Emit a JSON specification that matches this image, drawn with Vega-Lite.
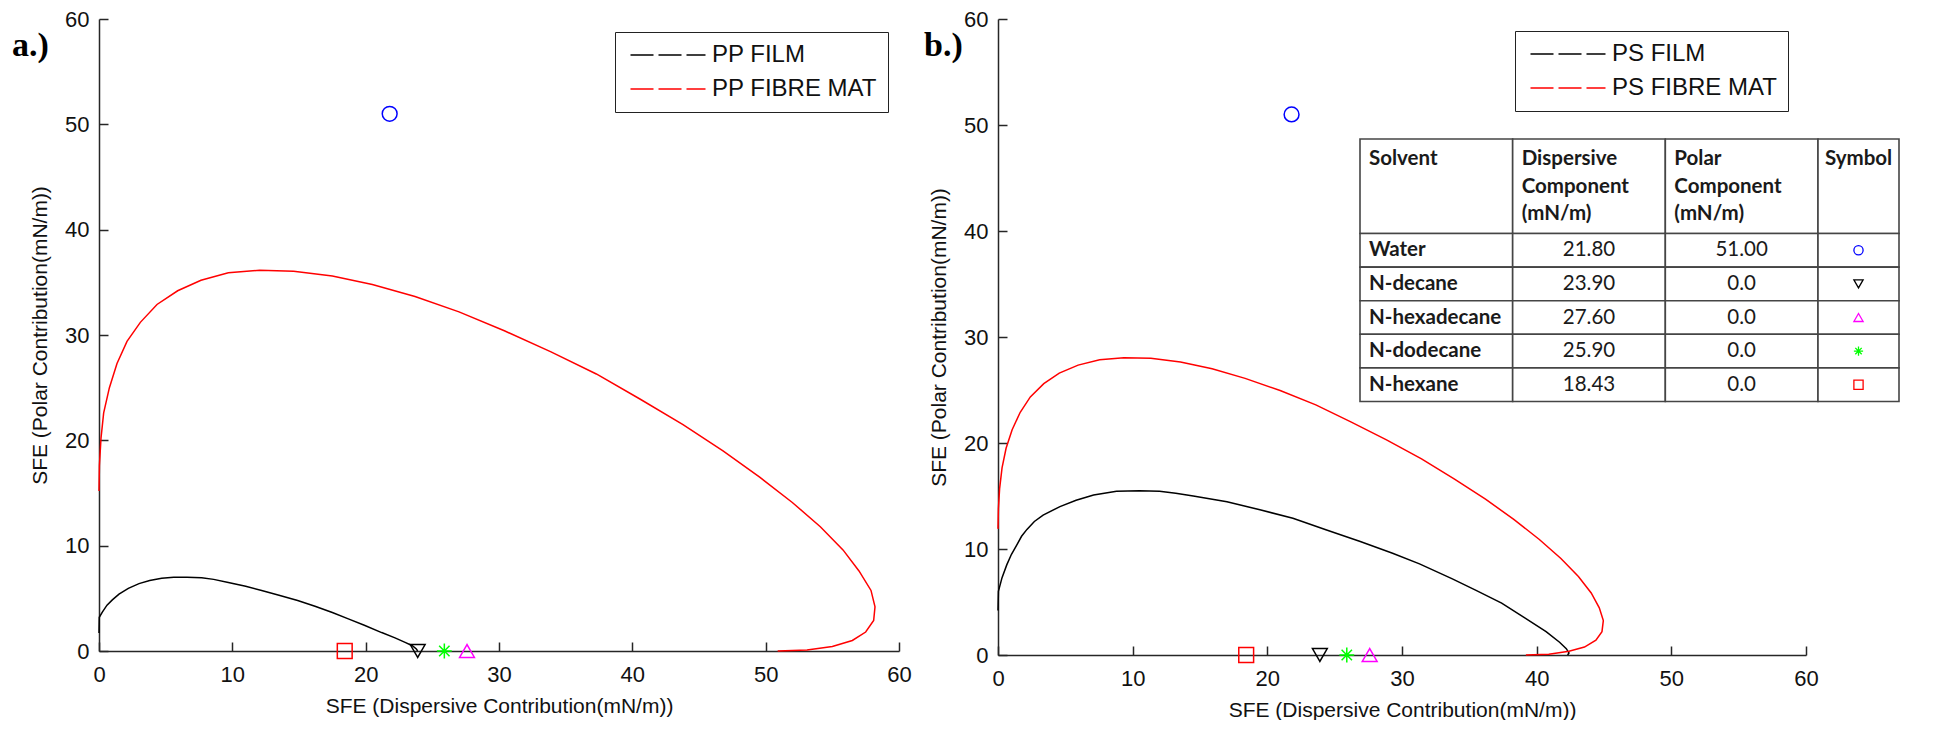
{
  "$schema": "https://vega.github.io/schema/vega-lite/v6.json",
  "background": "white",
  "padding": {"left": 12, "top": 8, "right": 0, "bottom": 0},
  "spacing": 12,
  "config": {
    "view": {"stroke": null},
    "font": "Liberation Sans",
    "axis": {
      "grid": false, "domainColor": "#262626", "domainWidth": 1.5, "tickColor": "#262626", "tickWidth": 1.5, "tickSize": -9,
      "labelFont": "Liberation Sans", "labelFontSize": 22, "labelColor": "#111111", "labelFlush": false, "labelOverlap": false,
      "titleFont": "Liberation Sans", "titleFontSize": 21, "titleFontWeight": "normal", "titleColor": "#111111"
    },
    "axisX": {"labelPadding": 22, "titlePadding": 10},
    "axisY": {"labelPadding": 19, "titlePadding": 14}
  },
  "datasets": {
    "curvesA": [
      {"series":"PP FILM","i":0,"x":0,"y":1.7},{"series":"PP FILM","i":1,"x":0.02,"y":3.2},{"series":"PP FILM","i":2,"x":0.25,"y":3.7},{"series":"PP FILM","i":3,"x":0.6,"y":4.35},{"series":"PP FILM","i":4,"x":1.0,"y":4.85},{"series":"PP FILM","i":5,"x":1.5,"y":5.4},{"series":"PP FILM","i":6,"x":2.2,"y":5.95},{"series":"PP FILM","i":7,"x":3.0,"y":6.4},{"series":"PP FILM","i":8,"x":3.8,"y":6.7},{"series":"PP FILM","i":9,"x":4.7,"y":6.9},{"series":"PP FILM","i":10,"x":5.6,"y":7.0},{"series":"PP FILM","i":11,"x":6.6,"y":7.0},{"series":"PP FILM","i":12,"x":7.7,"y":6.95},{"series":"PP FILM","i":13,"x":8.6,"y":6.8},{"series":"PP FILM","i":14,"x":9.7,"y":6.5},{"series":"PP FILM","i":15,"x":11.0,"y":6.15},{"series":"PP FILM","i":16,"x":12.2,"y":5.75},{"series":"PP FILM","i":17,"x":13.5,"y":5.3},{"series":"PP FILM","i":18,"x":14.9,"y":4.8},{"series":"PP FILM","i":19,"x":16.2,"y":4.25},{"series":"PP FILM","i":20,"x":17.5,"y":3.65},{"series":"PP FILM","i":21,"x":18.7,"y":3.05},{"series":"PP FILM","i":22,"x":19.9,"y":2.45},{"series":"PP FILM","i":23,"x":21.2,"y":1.75},{"series":"PP FILM","i":24,"x":22.2,"y":1.25},{"series":"PP FILM","i":25,"x":23.0,"y":0.8},{"series":"PP FILM","i":26,"x":23.5,"y":0.5},{"series":"PP FILM","i":27,"x":23.8,"y":0.2},{"series":"PP FILM","i":28,"x":23.9,"y":0},
      {"series":"PP FIBRE MAT","i":0,"x":0,"y":15.2},{"series":"PP FIBRE MAT","i":1,"x":0.03,"y":17.6},{"series":"PP FIBRE MAT","i":2,"x":0.15,"y":20.2},{"series":"PP FIBRE MAT","i":3,"x":0.35,"y":22.6},{"series":"PP FIBRE MAT","i":4,"x":0.78,"y":25.0},{"series":"PP FIBRE MAT","i":5,"x":1.35,"y":27.3},{"series":"PP FIBRE MAT","i":6,"x":2.1,"y":29.4},{"series":"PP FIBRE MAT","i":7,"x":3.1,"y":31.2},{"series":"PP FIBRE MAT","i":8,"x":4.35,"y":32.9},{"series":"PP FIBRE MAT","i":9,"x":5.9,"y":34.2},{"series":"PP FIBRE MAT","i":10,"x":7.65,"y":35.2},{"series":"PP FIBRE MAT","i":11,"x":9.7,"y":35.9},{"series":"PP FIBRE MAT","i":12,"x":12.05,"y":36.15},{"series":"PP FIBRE MAT","i":13,"x":14.6,"y":36.05},{"series":"PP FIBRE MAT","i":14,"x":17.5,"y":35.6},{"series":"PP FIBRE MAT","i":15,"x":20.5,"y":34.8},{"series":"PP FIBRE MAT","i":16,"x":23.7,"y":33.65},{"series":"PP FIBRE MAT","i":17,"x":27.0,"y":32.2},{"series":"PP FIBRE MAT","i":18,"x":30.4,"y":30.4},{"series":"PP FIBRE MAT","i":19,"x":33.9,"y":28.4},{"series":"PP FIBRE MAT","i":20,"x":37.3,"y":26.3},{"series":"PP FIBRE MAT","i":21,"x":40.6,"y":23.9},{"series":"PP FIBRE MAT","i":22,"x":43.8,"y":21.5},{"series":"PP FIBRE MAT","i":23,"x":46.8,"y":19.0},{"series":"PP FIBRE MAT","i":24,"x":49.55,"y":16.5},{"series":"PP FIBRE MAT","i":25,"x":52.0,"y":14.1},{"series":"PP FIBRE MAT","i":26,"x":54.1,"y":11.8},{"series":"PP FIBRE MAT","i":27,"x":55.8,"y":9.6},{"series":"PP FIBRE MAT","i":28,"x":57.0,"y":7.6},{"series":"PP FIBRE MAT","i":29,"x":57.9,"y":5.75},{"series":"PP FIBRE MAT","i":30,"x":58.2,"y":4.2},{"series":"PP FIBRE MAT","i":31,"x":58.1,"y":2.9},{"series":"PP FIBRE MAT","i":32,"x":57.5,"y":1.8},{"series":"PP FIBRE MAT","i":33,"x":56.5,"y":1.0},{"series":"PP FIBRE MAT","i":34,"x":55.0,"y":0.42},{"series":"PP FIBRE MAT","i":35,"x":53.1,"y":0.1},{"series":"PP FIBRE MAT","i":36,"x":50.9,"y":0}
    ],
    "curvesB": [
      {"series":"PS FILM","i":0,"x":0,"y":4.2},{"series":"PS FILM","i":1,"x":0.03,"y":6.0},{"series":"PS FILM","i":2,"x":0.3,"y":7.3},{"series":"PS FILM","i":3,"x":0.65,"y":8.5},{"series":"PS FILM","i":4,"x":1.0,"y":9.5},{"series":"PS FILM","i":5,"x":1.4,"y":10.4},{"series":"PS FILM","i":6,"x":1.75,"y":11.2},{"series":"PS FILM","i":7,"x":2.15,"y":11.85},{"series":"PS FILM","i":8,"x":2.7,"y":12.6},{"series":"PS FILM","i":9,"x":3.35,"y":13.2},{"series":"PS FILM","i":10,"x":4.6,"y":14.0},{"series":"PS FILM","i":11,"x":5.8,"y":14.6},{"series":"PS FILM","i":12,"x":7.1,"y":15.1},{"series":"PS FILM","i":13,"x":8.8,"y":15.45},{"series":"PS FILM","i":14,"x":10.5,"y":15.5},{"series":"PS FILM","i":15,"x":12.0,"y":15.45},{"series":"PS FILM","i":16,"x":13.2,"y":15.25},{"series":"PS FILM","i":17,"x":14.5,"y":15.0},{"series":"PS FILM","i":18,"x":17.0,"y":14.45},{"series":"PS FILM","i":19,"x":19.45,"y":13.7},{"series":"PS FILM","i":20,"x":21.9,"y":12.9},{"series":"PS FILM","i":21,"x":24.4,"y":11.8},{"series":"PS FILM","i":22,"x":26.9,"y":10.7},{"series":"PS FILM","i":23,"x":29.3,"y":9.6},{"series":"PS FILM","i":24,"x":31.3,"y":8.6},{"series":"PS FILM","i":25,"x":33.7,"y":7.2},{"series":"PS FILM","i":26,"x":35.5,"y":6.1},{"series":"PS FILM","i":27,"x":37.4,"y":4.9},{"series":"PS FILM","i":28,"x":39.0,"y":3.6},{"series":"PS FILM","i":29,"x":40.7,"y":2.2},{"series":"PS FILM","i":30,"x":41.7,"y":1.2},{"series":"PS FILM","i":31,"x":42.2,"y":0.6},{"series":"PS FILM","i":32,"x":42.4,"y":0.2},{"series":"PS FILM","i":33,"x":42.3,"y":0},
      {"series":"PS FIBRE MAT","i":0,"x":0,"y":11.9},{"series":"PS FIBRE MAT","i":1,"x":0.03,"y":13.8},{"series":"PS FIBRE MAT","i":2,"x":0.12,"y":15.7},{"series":"PS FIBRE MAT","i":3,"x":0.3,"y":17.65},{"series":"PS FIBRE MAT","i":4,"x":0.6,"y":19.5},{"series":"PS FIBRE MAT","i":5,"x":1.05,"y":21.25},{"series":"PS FIBRE MAT","i":6,"x":1.65,"y":22.9},{"series":"PS FIBRE MAT","i":7,"x":2.4,"y":24.35},{"series":"PS FIBRE MAT","i":8,"x":3.4,"y":25.6},{"series":"PS FIBRE MAT","i":9,"x":4.55,"y":26.6},{"series":"PS FIBRE MAT","i":10,"x":5.95,"y":27.35},{"series":"PS FIBRE MAT","i":11,"x":7.55,"y":27.85},{"series":"PS FIBRE MAT","i":12,"x":9.35,"y":28.05},{"series":"PS FIBRE MAT","i":13,"x":11.35,"y":28.0},{"series":"PS FIBRE MAT","i":14,"x":13.55,"y":27.65},{"series":"PS FIBRE MAT","i":15,"x":15.9,"y":27.0},{"series":"PS FIBRE MAT","i":16,"x":18.35,"y":26.1},{"series":"PS FIBRE MAT","i":17,"x":20.95,"y":24.95},{"series":"PS FIBRE MAT","i":18,"x":23.6,"y":23.6},{"series":"PS FIBRE MAT","i":19,"x":26.2,"y":22.0},{"series":"PS FIBRE MAT","i":20,"x":28.85,"y":20.3},{"series":"PS FIBRE MAT","i":21,"x":31.45,"y":18.5},{"series":"PS FIBRE MAT","i":22,"x":33.9,"y":16.6},{"series":"PS FIBRE MAT","i":23,"x":36.2,"y":14.7},{"series":"PS FIBRE MAT","i":24,"x":38.3,"y":12.8},{"series":"PS FIBRE MAT","i":25,"x":40.2,"y":10.9},{"series":"PS FIBRE MAT","i":26,"x":41.8,"y":9.1},{"series":"PS FIBRE MAT","i":27,"x":43.1,"y":7.4},{"series":"PS FIBRE MAT","i":28,"x":44.05,"y":5.85},{"series":"PS FIBRE MAT","i":29,"x":44.65,"y":4.45},{"series":"PS FIBRE MAT","i":30,"x":44.95,"y":3.25},{"series":"PS FIBRE MAT","i":31,"x":44.85,"y":2.2},{"series":"PS FIBRE MAT","i":32,"x":44.4,"y":1.4},{"series":"PS FIBRE MAT","i":33,"x":43.55,"y":0.75},{"series":"PS FIBRE MAT","i":34,"x":42.4,"y":0.35},{"series":"PS FIBRE MAT","i":35,"x":40.9,"y":0.08},{"series":"PS FIBRE MAT","i":36,"x":39.2,"y":0}
    ],
    "solvents": [
      {"solvent":"Water","disp":21.8,"polar":51.0,"dispText":"21.80","polarText":"51.00"},
      {"solvent":"N-decane","disp":23.9,"polar":0,"dispText":"23.90","polarText":"0.0"},
      {"solvent":"N-hexadecane","disp":27.6,"polar":0,"dispText":"27.60","polarText":"0.0"},
      {"solvent":"N-dodecane","disp":25.9,"polar":0,"dispText":"25.90","polarText":"0.0"},
      {"solvent":"N-hexane","disp":18.43,"polar":0,"dispText":"18.43","polarText":"0.0"}
    ],
    "tableHeader": [
      {"col":"Solvent","label":"Solvent"},
      {"col":"Dispersive","label":"Dispersive\nComponent\n(mN/m)"},
      {"col":"Polar","label":"Polar\nComponent\n(mN/m)"},
      {"col":"Symbol","label":"Symbol"}
    ]
  },
  "resolve": {"scale": {"x": "independent", "y": "independent", "color": "independent", "stroke": "independent", "shape": "independent"}},
  "hconcat": [
    {
      "width": 800, "height": 632,
      "title": {"text": "a.)", "anchor": "start", "frame": "group", "font": "Liberation Serif", "fontSize": 34, "fontWeight": "bold", "color": "#000000", "dx": -87, "dy": 55, "offset": 0},
      "layer": [
        {
          "data": {"name": "curvesA"},
          "mark": {"type": "line", "strokeWidth": 1.5},
          "encoding": {
            "x": {"field": "x", "type": "quantitative", "scale": {"domain": [0, 60], "nice": false, "zero": false}, "axis": {"values": [0,10,20,30,40,50,60], "title": "SFE (Dispersive Contribution(mN/m))"}},
            "y": {"field": "y", "type": "quantitative", "scale": {"domain": [0, 60], "nice": false, "zero": false}, "axis": {"values": [0,10,20,30,40,50,60], "title": "SFE (Polar Contribution(mN/m))"}},
            "color": {"field": "series", "type": "nominal", "scale": {"domain": ["PP FILM", "PP FIBRE MAT"], "range": ["#000000", "#ff0000"]},
              "legend": {"title": null, "orient": "none", "legendX": 516, "legendY": 13, "strokeColor": "#222222", "fillColor": "white", "padding": 11, "labelFont": "Liberation Sans", "labelFontSize": 24, "labelColor": "#111111", "symbolType": "M-5,0L5,0", "symbolSize": 225, "symbolOffset": 30, "symbolStrokeWidth": 1.5, "symbolDash": [23, 5], "labelOffset": 32, "rowPadding": 10, "labelLimit": 400}},
            "order": {"field": "i", "type": "quantitative"}
          }
        },
        {
          "data": {"name": "solvents"},
          "mark": {"type": "point", "filled": false, "size": 220, "strokeWidth": 1.5, "opacity": 1},
          "encoding": {
            "x": {"field": "disp", "type": "quantitative"},
            "y": {"field": "polar", "type": "quantitative"},
            "shape": {"field": "solvent", "type": "nominal", "scale": {"domain": ["Water","N-decane","N-hexadecane","N-dodecane","N-hexane"], "range": ["circle","triangle-down","triangle-up","M0,-1L0,1M-1,0L1,0M-0.7,-0.7L0.7,0.7M-0.7,0.7L0.7,-0.7","square"]}, "legend": null},
            "stroke": {"field": "solvent", "type": "nominal", "scale": {"domain": ["Water","N-decane","N-hexadecane","N-dodecane","N-hexane"], "range": ["#0000ff","#000000","#ff00ff","#00ff00","#ff0000"]}, "legend": null}
          }
        }
      ]
    },
    {
      "width": 808, "height": 636,
      "title": {"text": "b.)", "anchor": "start", "frame": "group", "font": "Liberation Serif", "fontSize": 34, "fontWeight": "bold", "color": "#000000", "dx": -74, "dy": 55, "offset": 0},
      "resolve": {"scale": {"x": "independent", "y": "independent"}},
      "layer": [
        {
          "layer": [
            {
              "data": {"name": "curvesB"},
              "mark": {"type": "line", "strokeWidth": 1.5},
              "encoding": {
                "x": {"field": "x", "type": "quantitative", "scale": {"domain": [0, 60], "nice": false, "zero": false}, "axis": {"values": [0,10,20,30,40,50,60], "title": "SFE (Dispersive Contribution(mN/m))"}},
                "y": {"field": "y", "type": "quantitative", "scale": {"domain": [0, 60], "nice": false, "zero": false}, "axis": {"values": [0,10,20,30,40,50,60], "title": "SFE (Polar Contribution(mN/m))"}},
                "color": {"field": "series", "type": "nominal", "scale": {"domain": ["PS FILM", "PS FIBRE MAT"], "range": ["#000000", "#ff0000"]},
                  "legend": {"title": null, "orient": "none", "legendX": 517, "legendY": 12, "strokeColor": "#222222", "fillColor": "white", "padding": 11, "labelFont": "Liberation Sans", "labelFontSize": 24, "labelColor": "#111111", "symbolType": "M-5,0L5,0", "symbolSize": 225, "symbolOffset": 30, "symbolStrokeWidth": 1.5, "symbolDash": [23, 5], "labelOffset": 32, "rowPadding": 10, "labelLimit": 400}},
                "order": {"field": "i", "type": "quantitative"}
              }
            },
            {
              "data": {"name": "solvents"},
              "mark": {"type": "point", "filled": false, "size": 220, "strokeWidth": 1.5, "opacity": 1},
              "encoding": {
                "x": {"field": "disp", "type": "quantitative"},
                "y": {"field": "polar", "type": "quantitative"},
                "shape": {"field": "solvent", "type": "nominal", "scale": {"domain": ["Water","N-decane","N-hexadecane","N-dodecane","N-hexane"], "range": ["circle","triangle-down","triangle-up","M0,-1L0,1M-1,0L1,0M-0.7,-0.7L0.7,0.7M-0.7,0.7L0.7,-0.7","square"]}, "legend": null},
                "stroke": {"field": "solvent", "type": "nominal", "scale": {"domain": ["Water","N-decane","N-hexadecane","N-dodecane","N-hexane"], "range": ["#0000ff","#000000","#ff00ff","#00ff00","#ff0000"]}, "legend": null}
              }
            }
          ]
        },
        {
          "data": {"name": "tableHeader"},
          "transform": [{"filter": "datum.col !== 'Symbol'"}],
          "encoding": {
            "x": {"field": "col", "type": "nominal", "scale": {"domain": ["Solvent","Dispersive","Polar"], "range": [362, 820], "paddingInner": 0, "paddingOuter": 0}, "axis": null},
            "y": {"datum": "header", "type": "nominal", "scale": {"domain": ["header"], "range": [120, 214.5], "paddingInner": 0, "paddingOuter": 0}, "axis": null}
          },
          "layer": [
            {"mark": {"type": "rect", "fill": "white", "stroke": "#454545", "strokeWidth": 1.6}},
            {"mark": {"type": "text", "align": "left", "baseline": "top", "dx": 9, "dy": 10, "font": "Lato", "fontWeight": "bold", "fontSize": 20.5, "lineHeight": 27.5, "lineBreak": "\n", "color": "#1a1a1a"},
             "encoding": {"x": {"field": "col", "type": "nominal", "bandPosition": 0}, "y": {"datum": "header", "type": "nominal", "bandPosition": 0}, "text": {"field": "label"}}}
          ]
        },
        {
          "data": {"name": "tableHeader"},
          "transform": [{"filter": "datum.col === 'Symbol'"}],
          "encoding": {
            "x": {"field": "col", "type": "nominal", "scale": {"domain": ["Symbol"], "range": [820, 901], "paddingInner": 0, "paddingOuter": 0}, "axis": null},
            "y": {"datum": "header", "type": "nominal", "scale": {"domain": ["header"], "range": [120, 214.5], "paddingInner": 0, "paddingOuter": 0}, "axis": null}
          },
          "layer": [
            {"mark": {"type": "rect", "fill": "white", "stroke": "#454545", "strokeWidth": 1.6}},
            {"mark": {"type": "text", "align": "left", "baseline": "top", "dx": 7, "dy": 10, "font": "Lato", "fontWeight": "bold", "fontSize": 20.5, "lineHeight": 27.5, "color": "#1a1a1a"},
             "encoding": {"x": {"field": "col", "type": "nominal", "bandPosition": 0}, "y": {"datum": "header", "type": "nominal", "bandPosition": 0}, "text": {"field": "label"}}}
          ]
        },
        {
          "data": {"name": "solvents"},
          "transform": [{"fold": ["solvent", "dispText", "polarText"], "as": ["col", "val"]}],
          "encoding": {
            "x": {"field": "col", "type": "nominal", "scale": {"domain": ["solvent","dispText","polarText"], "range": [362, 820], "paddingInner": 0, "paddingOuter": 0}, "axis": null},
            "y": {"field": "solvent", "type": "nominal", "scale": {"domain": ["Water","N-decane","N-hexadecane","N-dodecane","N-hexane"], "range": [214.5, 382.5], "paddingInner": 0, "paddingOuter": 0}, "axis": null}
          },
          "layer": [
            {"mark": {"type": "rect", "fill": "white", "stroke": "#454545", "strokeWidth": 1.6}},
            {"transform": [{"filter": "datum.col === 'solvent'"}],
             "mark": {"type": "text", "align": "left", "baseline": "middle", "dx": 9, "font": "Lato", "fontWeight": "bold", "fontSize": 20.5, "color": "#1a1a1a"},
             "encoding": {"x": {"field": "col", "type": "nominal", "bandPosition": 0}, "text": {"field": "val"}}},
            {"transform": [{"filter": "datum.col !== 'solvent'"}],
             "mark": {"type": "text", "align": "center", "baseline": "middle", "font": "Lato", "fontSize": 20.5, "color": "#1a1a1a"},
             "encoding": {"text": {"field": "val"}}}
          ]
        },
        {
          "data": {"name": "solvents"},
          "encoding": {
            "x": {"datum": "Symbol", "type": "nominal", "scale": {"domain": ["Symbol"], "range": [820, 901], "paddingInner": 0, "paddingOuter": 0}, "axis": null},
            "y": {"field": "solvent", "type": "nominal", "scale": {"domain": ["Water","N-decane","N-hexadecane","N-dodecane","N-hexane"], "range": [214.5, 382.5], "paddingInner": 0, "paddingOuter": 0}, "axis": null}
          },
          "layer": [
            {"mark": {"type": "rect", "fill": "white", "stroke": "#454545", "strokeWidth": 1.6}},
            {"mark": {"type": "point", "filled": false, "size": 85, "strokeWidth": 1.3, "opacity": 1},
             "encoding": {"shape": {"field": "solvent", "type": "nominal", "legend": null}, "stroke": {"field": "solvent", "type": "nominal", "legend": null}}}
          ]
        }
      ]
    }
  ]
}
